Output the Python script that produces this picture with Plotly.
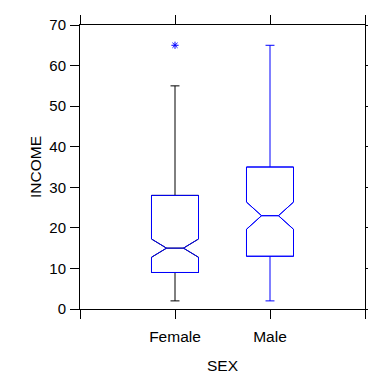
import plotly.graph_objects as go

# Data
categories = ["Female", "Male"]
q1 = [9, 13]
median = [15, 23]
q3 = [28, 35]
lower_fence = [2, 2]
upper_fence = [55, 65]
notch_span = [2.25, 3.35]
outlier_cat = ["Female"]
outlier_val = [65]
y_ticks = [0, 10, 20, 30, 40, 50, 60, 70]

pos = {c: i for i, c in enumerate(categories)}
BLUE = "#0000ff"
FONT = "Liberation Sans, Arial, sans-serif"

fig = go.Figure()

for i, c in enumerate(categories):
    whisker_color = "black" if c == "Female" else BLUE
    # full box (whiskers get this colour)
    fig.add_trace(go.Box(
        x=[pos[c]], q1=[q1[i]], median=[median[i]], q3=[q3[i]],
        lowerfence=[lower_fence[i]], upperfence=[upper_fence[i]],
        notched=True, notchspan=[notch_span[i]], notchwidth=0.32,
        width=0.495, whiskerwidth=0.19,
        line=dict(color=whisker_color, width=1),
        fillcolor="rgba(0,0,0,0)", boxpoints=False, showlegend=False,
        hoverinfo="skip",
    ))
    # blue box outline on top
    fig.add_trace(go.Box(
        x=[pos[c]], q1=[q1[i]], median=[median[i]], q3=[q3[i]],
        lowerfence=[q1[i]], upperfence=[q3[i]],
        notched=True, notchspan=[notch_span[i]], notchwidth=0.32,
        width=0.495, whiskerwidth=0,
        line=dict(color=BLUE, width=1),
        fillcolor="rgba(0,0,0,0)", boxpoints=False, showlegend=False,
        hoverinfo="skip",
    ))

fig.add_trace(go.Scatter(
    x=[pos[c] for c in outlier_cat], y=outlier_val, mode="markers",
    marker=dict(symbol="asterisk-open", size=6, color=BLUE,
                line=dict(color=BLUE, width=1)),
    showlegend=False, hoverinfo="skip",
))

# page body has an 8px margin, so the figure is 8px smaller and offset
fig.update_layout(
    width=368, height=376,
    margin=dict(l=72, r=11, t=17, b=75),
    paper_bgcolor="white", plot_bgcolor="white",
    font=dict(family=FONT, size=15.5, color="black"),
    boxmode="overlay",
    annotations=[dict(
        text="INCOME", textangle=-90, showarrow=False,
        xref="paper", yref="paper", x=0, y=0.5,
        xanchor="center", yanchor="middle", xshift=-45,
        font=dict(size=15.5, color="black"),
    )],
)
fig.update_xaxes(
    range=[-1, 2], tickmode="array",
    tickvals=[-1] + [pos[c] for c in categories] + [2],
    ticktext=[""] + categories + [""],
    showline=True, linecolor="black", linewidth=1, mirror="ticks",
    ticks="outside", ticklen=9, tickcolor="black", tickwidth=1,
    showgrid=False, zeroline=False, automargin=False,
    tickfont=dict(size=15.5), ticklabelstandoff=4,
    title=dict(text="SEX", standoff=16, font=dict(size=15.5)),
)
fig.update_yaxes(
    range=[0, 70], tickmode="array", tickvals=y_ticks,
    showline=True, linecolor="black", linewidth=1, mirror="ticks",
    ticks="outside", ticklen=9, tickcolor="black", tickwidth=1,
    showgrid=False, zeroline=False, automargin=False,
    tickfont=dict(size=15), ticklabelstandoff=1,
)

fig.write_html("out.html")
